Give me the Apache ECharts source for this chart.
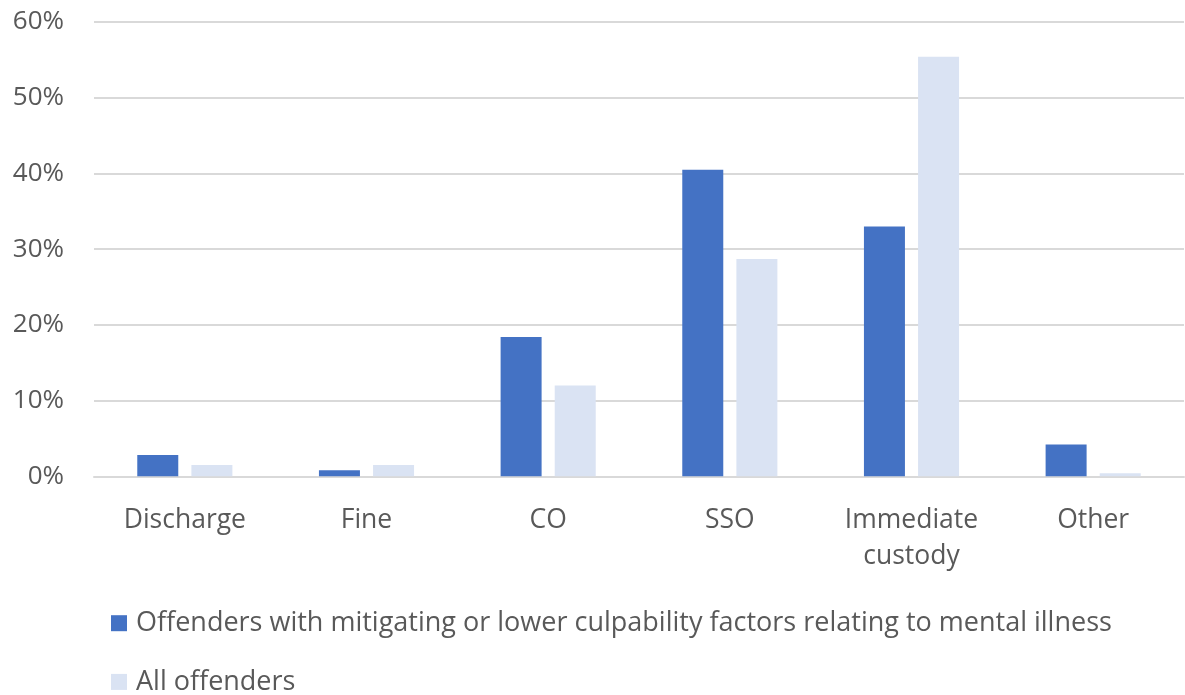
<!DOCTYPE html>
<html>
<head>
<meta charset="utf-8">
<script src="https://cdn.jsdelivr.net/npm/echarts@6/dist/echarts.min.js"></script>
<style>
html,body{margin:0;padding:0;background:#fff;}
#c{width:1185px;height:695px;}
</style>
</head>
<body>
<div id="c"></div>
<script>
const categories = ['Discharge', 'Fine', 'CO', 'SSO', 'Immediate\ncustody', 'Other'];
const seriesNames = ['Offenders with mitigating or lower culpability factors relating to mental illness', 'All offenders'];
const mentalIllness = [2.8, 0.8, 18.4, 40.5, 33.0, 4.2];
const allOffenders = [1.5, 1.5, 12.0, 28.7, 55.4, 0.4];
const yTicks = [0, 10, 20, 30, 40, 50, 60];

const FONT = 'Open Sans';
const TXT = '#595959';
const chart = echarts.init(document.getElementById('c'), null, {renderer: 'canvas'});
chart.setOption({
  animation: false,
  backgroundColor: '#ffffff',
  grid: {left: 94, right: 1, top: 22, bottom: 218.7, containLabel: false},
  legend: {
    orient: 'vertical',
    left: 111,
    top: 609.7,
    height: 90,
    padding: 0,
    itemWidth: 16,
    itemHeight: 16,
    itemGap: 31.7,
    icon: 'rect',
    textStyle: {fontFamily: FONT, fontSize: 27, color: TXT, lineHeight: 26, padding: [0, 0, 0, 4]},
    data: seriesNames
  },
  xAxis: {
    type: 'category',
    data: categories,
    axisLine: {show: true, lineStyle: {color: '#D9D9D9', width: 2}},
    axisTick: {show: false},
    axisLabel: {fontFamily: FONT, fontSize: 26.5, color: TXT, lineHeight: 36, margin: 26, interval: 0}
  },
  yAxis: {
    type: 'value',
    min: yTicks[0],
    max: yTicks[yTicks.length - 1],
    interval: 10,
    axisLine: {show: false},
    axisTick: {show: false},
    splitLine: {lineStyle: {color: '#D9D9D9', width: 2}},
    axisLabel: {fontFamily: FONT, fontSize: 26, color: TXT, margin: 30, formatter: v => v + '%'}
  },
  series: [
    {name: seriesNames[0], type: 'bar', data: mentalIllness, itemStyle: {color: '#4472C4'}, barWidth: 41, barGap: '32%', barCategoryGap: '48%'},
    {name: seriesNames[1], type: 'bar', data: allOffenders, itemStyle: {color: '#DAE3F3'}, barWidth: 41, barGap: '32%', barCategoryGap: '48%'}
  ]
});
</script>
</body>
</html>
